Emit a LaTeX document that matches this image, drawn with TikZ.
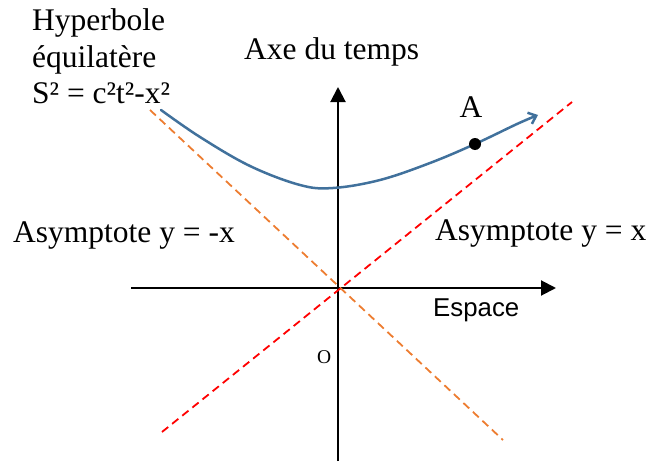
\documentclass[tikz,border=0pt]{standalone}
\usepackage{fontspec}
\setmainfont{Liberation Serif}
\newfontfamily\espacefont{Liberation Sans}
\usetikzlibrary{arrows.meta, positioning}
\definecolor{hypblue}{RGB}{65,113,156}
\definecolor{asymorange}{RGB}{237,125,49}
\definecolor{asymred}{RGB}{255,0,0}

\begin{document}
\begin{tikzpicture}[
      x=1pt, y=-1pt,
      axis/.style={line width=2pt, -{Triangle[length=15pt, width=15pt]}},
      asymp/.style={line width=1.8pt, dash pattern=on 8pt off 5pt},
      txt/.style={font=\fontsize{31.5}{36.5}\selectfont, inner sep=0pt},
      hyp/.style={line width=2.5pt, draw=hypblue, line cap=round, -{Straight Barb[length=7pt, width=12pt]}}
    ]
    \useasboundingbox (0,0) rectangle (649,463);

    % axes
    \coordinate (o) at (338,288);
    \coordinate (xl) at (131,288);
    \coordinate (xr) at (556,288);
    \coordinate (yb) at (338,461);
    \coordinate (yt) at (338,87);
    \draw[axis] (xl) -- (xr);
    \draw[axis] (yb) -- (yt);

    % asymptotes
    \coordinate (m1) at (150,110);
    \coordinate (m2) at (503,440);
    \coordinate (p1) at (162,432);
    \coordinate (p2) at (572,102);
    \draw[asymp, draw=asymorange] (m1) -- (m2);
    \draw[asymp, draw=asymred] (p1) -- (p2);

    % hyperbola
    \draw[hyp] plot[smooth, tension=0.6] coordinates {(161,110) (200,137) (250,166) (300,185) (333,188) (380,180) (430,163) (475,144) (517,124) (538,115)};
    \node[circle, fill, inner sep=0pt, minimum size=12pt] (A) at (475,144) {};
    \node[txt, above=20pt of A, xshift=-4pt] (lblA) {A};

    % labels
    \node[txt, anchor=north west, align=left] (hyperbole) at (32,8.5) {Hyperbole\\équilatère\\S² = c²t²-x²};
    \node[txt, anchor=base west] (temps) at (244,59) {Axe du temps};
    \node[txt, anchor=base west] (asymm) at (13,242) {Asymptote y = -x};
    \node[txt, anchor=base west] (asymp) at (435,240) {Asymptote y = x};
    \node[font=\espacefont\fontsize{25.8}{30}\selectfont, inner sep=0pt, anchor=base west] (espace) at (433,316) {Espace};
    \node[font=\fontsize{19.5}{22}\selectfont, inner sep=0pt, anchor=base west] (origin) at (317,363) {O};
  \end{tikzpicture}
\end{document}
